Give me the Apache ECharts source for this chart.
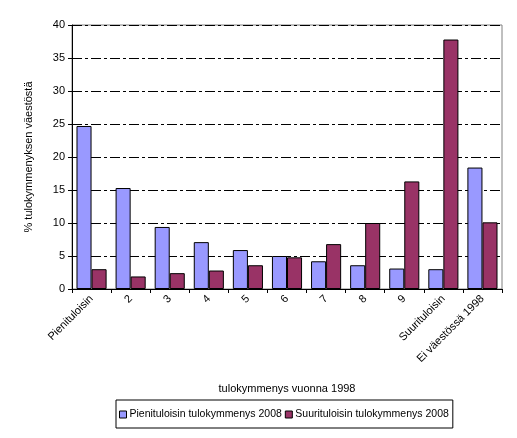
<!DOCTYPE html>
<html><head><meta charset="utf-8">
<script src="https://cdn.jsdelivr.net/npm/echarts@6/dist/echarts.min.js"></script>
<style>html,body{margin:0;padding:0;background:#fff}#c{width:517px;height:438px}</style>
</head><body><div id="c"></div>
<script>
const categories = ['Pienituloisin','2','3','4','5','6','7','8','9','Suurituloisin','Ei väestössä 1998'];
const seriesNames = ['Pienituloisin tulokymmenys 2008','Suurituloisin tulokymmenys 2008'];
const lowIncome = [24.7, 15.3, 9.4, 7.1, 5.9, 5.0, 4.2, 3.6, 3.1, 3.0, 18.4];
const highIncome = [3.0, 1.9, 2.4, 2.8, 3.6, 4.8, 6.8, 10.0, 16.3, 37.8, 10.1];
const yTicks = [0,5,10,15,20,25,30,35,40];

const font = 'Liberation Sans, Arial, sans-serif';
const chart = echarts.init(document.getElementById('c'));
chart.setOption({
  animation:false,
  textStyle:{fontFamily:font},
  grid:{left:72,right:15,top:25,bottom:149,show:true,borderColor:'#808080',borderWidth:1,backgroundColor:'#fff'},
  legend:{
    data:seriesNames, left:116, top:400, orient:'horizontal',
    borderColor:'#000', borderWidth:1, padding:[9,4,8,3],
    icon:'rect', itemWidth:7, itemHeight:7, itemGap:3,
    textStyle:{fontSize:10.5,color:'#000',fontFamily:font,padding:[0,0,0,-2]},
    itemStyle:{borderColor:'#000',borderWidth:1}
  },
  xAxis:{
    type:'category', data:categories,
    name:'tulokymmenys vuonna 1998', nameLocation:'middle', nameGap:94,
    nameTextStyle:{fontSize:11,color:'#000',fontFamily:font},
    axisLine:{lineStyle:{color:'#000',width:1}},
    axisTick:{show:true,length:4,inside:false,lineStyle:{color:'#000'}},
    axisLabel:{rotate:45,fontSize:11,color:'#000',interval:0,margin:8,fontFamily:font},
    z:5
  },
  yAxis:{
    type:'value', min:yTicks[0], max:yTicks[yTicks.length-1], interval:5,
    name:'% tulokymmenyksen väestöstä', nameLocation:'middle', nameGap:38, nameRotate:90,
    nameTextStyle:{fontSize:11,color:'#000',fontFamily:font},
    axisLine:{show:true,lineStyle:{color:'#000',width:1}},
    axisTick:{show:true,length:4,lineStyle:{color:'#000'}},
    axisLabel:{fontSize:11,color:'#000',margin:7,fontFamily:font},
    splitLine:{show:true,lineStyle:{color:'#000',width:1,type:[10,3,3,3]}}
  },
  series:[
    {name:seriesNames[0],type:'bar',data:lowIncome,barGap:'0%',barCategoryGap:'23%',
     itemStyle:{color:'#9999FF',borderColor:'#000',borderWidth:1}},
    {name:seriesNames[1],type:'bar',data:highIncome,barGap:'0%',barCategoryGap:'23%',
     itemStyle:{color:'#993366',borderColor:'#000',borderWidth:1}}
  ]
});
</script></body></html>
